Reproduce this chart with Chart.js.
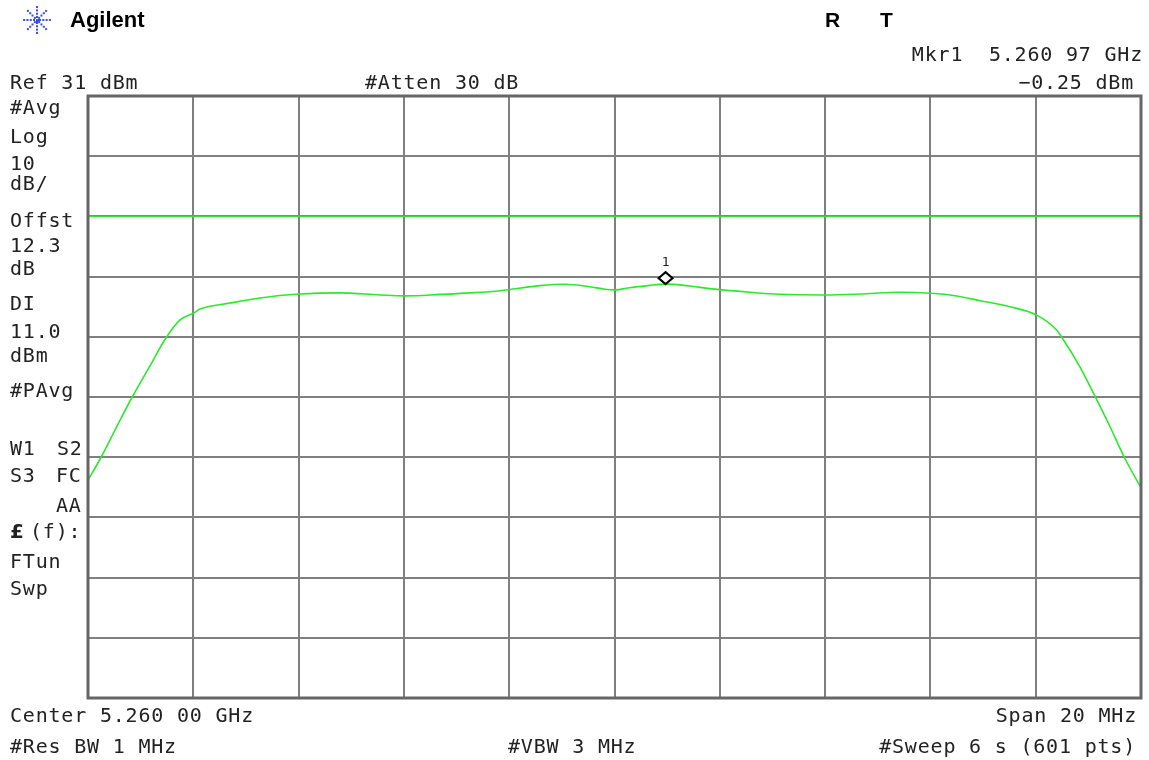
<!DOCTYPE html>
<html>
<head>
<meta charset="utf-8">
<title>Agilent spectrum</title>
<script src="https://cdn.jsdelivr.net/npm/chart.js@4.4.1/dist/chart.umd.min.js"></script>
<style>
  html, body { margin: 0; padding: 0; background: #fff; }
  #wrap { width: 1149px; height: 760px; }
</style>
</head>
<body>
<div id="wrap"><canvas id="spec" width="1149" height="760"></canvas></div>
<script>
// trace (MHz, dBm)
const freqMHz = [5250.00, 5250.23, 5250.53, 5250.84, 5251.18, 5251.48, 5251.75, 5252.01, 5252.13,
  5252.70, 5253.27, 5254.01, 5254.79, 5255.55, 5256.02, 5256.69, 5257.26, 5257.83, 5258.58,
  5259.06, 5259.53, 5259.82, 5260.01, 5260.29, 5260.67, 5260.97, 5261.43, 5261.81, 5262.57,
  5263.14, 5264.02, 5264.66, 5265.42, 5266.01, 5266.47, 5266.94, 5267.51, 5268.02, 5268.40,
  5268.49, 5268.84, 5269.13, 5269.41, 5269.70, 5270.00];
const levels = [-32.8, -29.3, -24.2, -19.0, -13.8, -9.2, -6.2, -5.05, -4.4,
  -3.4, -2.55, -1.9, -1.7, -2.05, -2.2, -1.96, -1.7, -1.34, -0.5,
  -0.28, -0.68, -1.1, -1.2, -0.85, -0.45, -0.25, -0.56, -1.0, -1.6,
  -1.94, -2.05, -1.9, -1.6, -1.77, -2.17, -3.0, -4.0, -5.4, -7.9,
  -9.0, -14.0, -18.95, -23.9, -29.3, -34.1];

const xTicks = [5250, 5252, 5254, 5256, 5258, 5260, 5262, 5264, 5266, 5268, 5270];
const yTicks = [31, 21, 11, 1, -9, -19, -29, -39, -49, -59, -69];
const displayLine = 11.0;
const markerFreq = 5260.97;
const markerLevel = -0.25;

const leftNotes = [
  ['#Avg', 10, 114], ['Log', 10, 143], ['10', 10, 170], ['dB/', 10, 190],
  ['Offst', 10, 227], ['12.3', 10, 252], ['dB', 10, 275], ['DI', 10, 310],
  ['11.0', 10, 338], ['dBm', 10, 362], ['#PAvg', 10, 397], ['W1', 10, 455],
  ['S2', 57, 455], ['S3', 10, 482], ['FC', 56, 482], ['AA', 56, 512],
  ['(f):', 30, 538], ['FTun', 10, 568], ['Swp', 10, 595]
];

const MONO = '20px "DejaVu Sans Mono"';

const screenText = {
  id: 'screenText',
  afterDraw(chart) {
    const ctx = chart.ctx;
    const a = chart.chartArea;
    const xs = chart.scales.x, ys = chart.scales.y;
    ctx.save();

    // frame
    ctx.strokeStyle = '#666';
    ctx.lineWidth = 3;
    ctx.strokeRect(a.left, a.top, a.right - a.left, a.bottom - a.top);

    // marker diamond + label
    const mx = xs.getPixelForValue(markerFreq);
    const my = ys.getPixelForValue(markerLevel) - 6;
    ctx.beginPath();
    ctx.moveTo(mx, my - 6); ctx.lineTo(mx + 7, my); ctx.lineTo(mx, my + 6); ctx.lineTo(mx - 7, my);
    ctx.closePath();
    ctx.fillStyle = '#fff'; ctx.fill();
    ctx.strokeStyle = '#000'; ctx.lineWidth = 2; ctx.stroke();
    ctx.fillStyle = '#222';
    ctx.font = '13px "DejaVu Sans Mono"';
    ctx.textAlign = 'center';
    ctx.fillText('1', mx, my - 12);

    // logo
    ctx.fillStyle = '#3a4fe0';
    for (let k = 0; k < 8; k++) {
      const ang = k * Math.PI / 4;
      for (let r = 3; r <= 13; r += 3.3) {
        ctx.fillRect(37 + Math.cos(ang) * r - 1, 20 + Math.sin(ang) * r - 1, 2, 2);
      }
    }
    ctx.fillRect(36, 19, 3, 3);

    ctx.fillStyle = '#000';
    ctx.textAlign = 'left';
    ctx.font = 'bold 22px "Liberation Sans"';
    ctx.fillText('Agilent', 70, 27);
    ctx.font = 'bold 21px "Liberation Sans"';
    ctx.fillText('R', 825, 27);
    ctx.fillText('T', 880, 27);

    // instrument annotations
    ctx.font = MONO;
    ctx.letterSpacing = '0.8px';
    ctx.fillStyle = '#222';
    ctx.fillText('Ref 31 dBm', 10, 89);
    ctx.fillText('#Atten 30 dB', 365, 89);
    ctx.fillText('Center 5.260 00 GHz', 10, 722);
    ctx.fillText('#Res BW 1 MHz', 10, 753);
    ctx.fillText('#VBW 3 MHz', 508, 753);
    leftNotes.forEach(([t, x, y]) => ctx.fillText(t, x, y));
    ctx.textAlign = 'right';
    ctx.fillText('Mkr1  5.260 97 GHz', 1143, 61);
    ctx.fillText('\u22120.25 dBm', 1134, 89);
    ctx.fillText('Span 20 MHz', 1137, 722);
    ctx.fillText('#Sweep 6 s (601 pts)', 1136, 753);
    ctx.textAlign = 'left';
    ctx.font = 'bold 20px "DejaVu Sans"';
    ctx.letterSpacing = '0px';
    ctx.fillText('\u00a3', 10, 538);
    ctx.restore();
  }
};

new Chart(document.getElementById('spec'), {
  type: 'line',
  data: {
    datasets: [{
      data: freqMHz.map((f, i) => ({ x: f, y: levels[i] })),
      borderColor: '#2bea2b',
      borderWidth: 1.6,
      pointRadius: 0,
      cubicInterpolationMode: 'monotone'
    }, {
      data: [{ x: xTicks[0], y: displayLine }, { x: xTicks[xTicks.length - 1], y: displayLine }],
      borderColor: '#36e036',
      borderWidth: 1.5,
      pointRadius: 0
    }]
  },
  options: {
    responsive: false,
    animation: false,
    devicePixelRatio: 1,
    layout: { padding: { left: 88, top: 96, right: 8, bottom: 62 } },
    plugins: { legend: { display: false }, tooltip: { enabled: false } },
    scales: {
      x: {
        type: 'linear',
        min: xTicks[0], max: xTicks[xTicks.length - 1],
        afterBuildTicks: s => { s.ticks = xTicks.map(v => ({ value: v })); },
        afterFit: s => { s.height = 0; },
        ticks: { display: false },
        border: { display: false },
        grid: { color: '#808080', lineWidth: 2, drawTicks: false }
      },
      y: {
        min: yTicks[yTicks.length - 1], max: yTicks[0],
        afterBuildTicks: s => { s.ticks = yTicks.map(v => ({ value: v })); },
        afterFit: s => { s.width = 0; },
        ticks: { display: false },
        border: { display: false },
        grid: { color: '#808080', lineWidth: 2, drawTicks: false }
      }
    }
  },
  plugins: [screenText]
});
</script>
</body>
</html>
